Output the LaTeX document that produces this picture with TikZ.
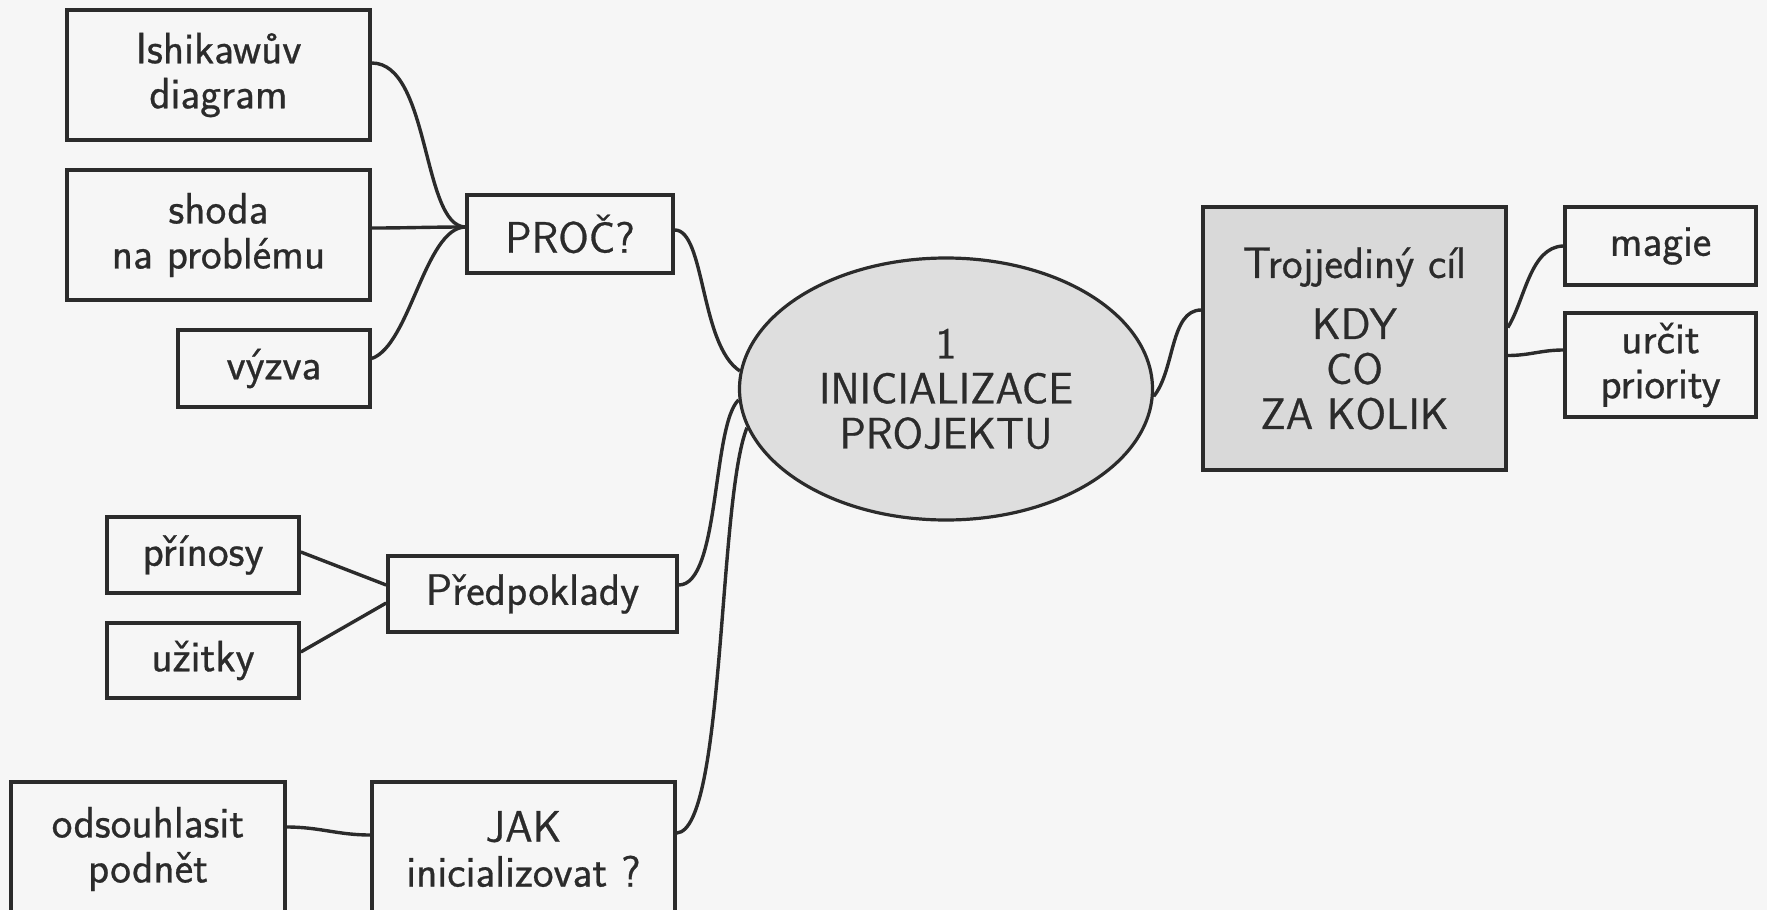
\documentclass[tikz,border=0pt]{standalone}
\usepackage{fontspec}
\setsansfont{Latin Modern Sans}[FakeBold=0.6]
\usetikzlibrary{shapes.geometric}
\definecolor{bg}{gray}{0.965}
\definecolor{ink}{HTML}{2B2B2B}
\definecolor{ellfill}{gray}{0.87}
\definecolor{trojfill}{gray}{0.85}
\begin{document}
\begin{tikzpicture}[x=1pt,y=-1pt,
  box/.style={draw=ink, line width=3.6pt, inner sep=0pt, align=center,
    font=\sffamily\fontsize{44}{45}\selectfont, text=ink},
  conn/.style={draw=ink, line width=3.4pt},
  bw/.style args={#1x#2}{minimum width=#1pt, minimum height=#2pt}]
\path[use as bounding box, fill=bg] (0,0) rectangle (1767,910);
\clip (0,0) rectangle (1767,910);

% nodes
\node[box, bw=303x130] (ish) at (218.5,75) {Ishikawův\\diagram};
\node[box, bw=303x130] (shoda) at (218.5,235) {shoda\\na problému};
\node[box, bw=192x77] (vyzva) at (274,368.5) {výzva};
\node[box, bw=206x78] (proc) at (570,234) {PROČ?};
\node[box, ellipse, fill=ellfill, line width=3.2pt, bw=413x262] (ell) at (946,389) {1\\INICIALIZACE\\PROJEKTU};
\node[box, fill=trojfill, bw=303x263] (troj) at (1354.5,338.5) {Trojjediný cíl\\[16pt]KDY\\CO\\ZA KOLIK};
\node[box, bw=191x78] (magie) at (1660.5,246) {magie};
\node[box, bw=191x104] (urcit) at (1660.5,365) {určit\\priority};
\node[box, bw=192x76] (prinosy) at (203,555) {přínosy};
\node[box, bw=192x75] (uzitky) at (203,660.5) {užitky};
\node[box, bw=289x76] (predp) at (532.5,594) {Předpoklady};
\node[box, bw=274x134] (ods) at (148,849) {odsouhlasit\\podnět};
\node[box, bw=303x134] (jak) at (523.5,849) {JAK\\inicializovat ?};

% connectors
\draw[conn] ([yshift=12pt]ish.east) .. controls (430,63) and (422,226) .. ([yshift=7pt]proc.west);
\draw[conn] ([yshift=7pt]shoda.east) to[out=0,in=180] ([yshift=7pt]proc.west);
\draw[conn] ([yshift=10pt]vyzva.east) .. controls (410,345) and (425,228) .. ([yshift=7pt]proc.west);
\draw[conn] ([yshift=4pt]proc.east) .. controls (705,230) and (700,345) .. (ell.175);
\draw[conn] ([yshift=9pt]predp.east) .. controls (720,585) and (712,425) .. (ell.183);
\draw[conn] ([yshift=16pt]jak.east) .. controls (725,830) and (718,500) .. (ell.191.9);
\draw[conn] (ell.358) .. controls (1175,370) and (1170,310) .. ([yshift=28.5pt]troj.west);
\draw[conn] ([yshift=11pt]troj.east) .. controls (1525,300) and (1530,247) .. (magie.west);
\draw[conn] ([yshift=-17pt]troj.east) to[out=0,in=180] ([yshift=15pt]urcit.west);
\draw[conn] ([yshift=3pt]prinosy.east) -- ([yshift=9pt]predp.west);
\draw[conn] ([yshift=8.5pt]uzitky.east) -- ([yshift=-9pt]predp.west);
\draw[conn] ([yshift=22pt]ods.east) to[out=0,in=180] ([yshift=14pt]jak.west);
\end{tikzpicture}
\end{document}
